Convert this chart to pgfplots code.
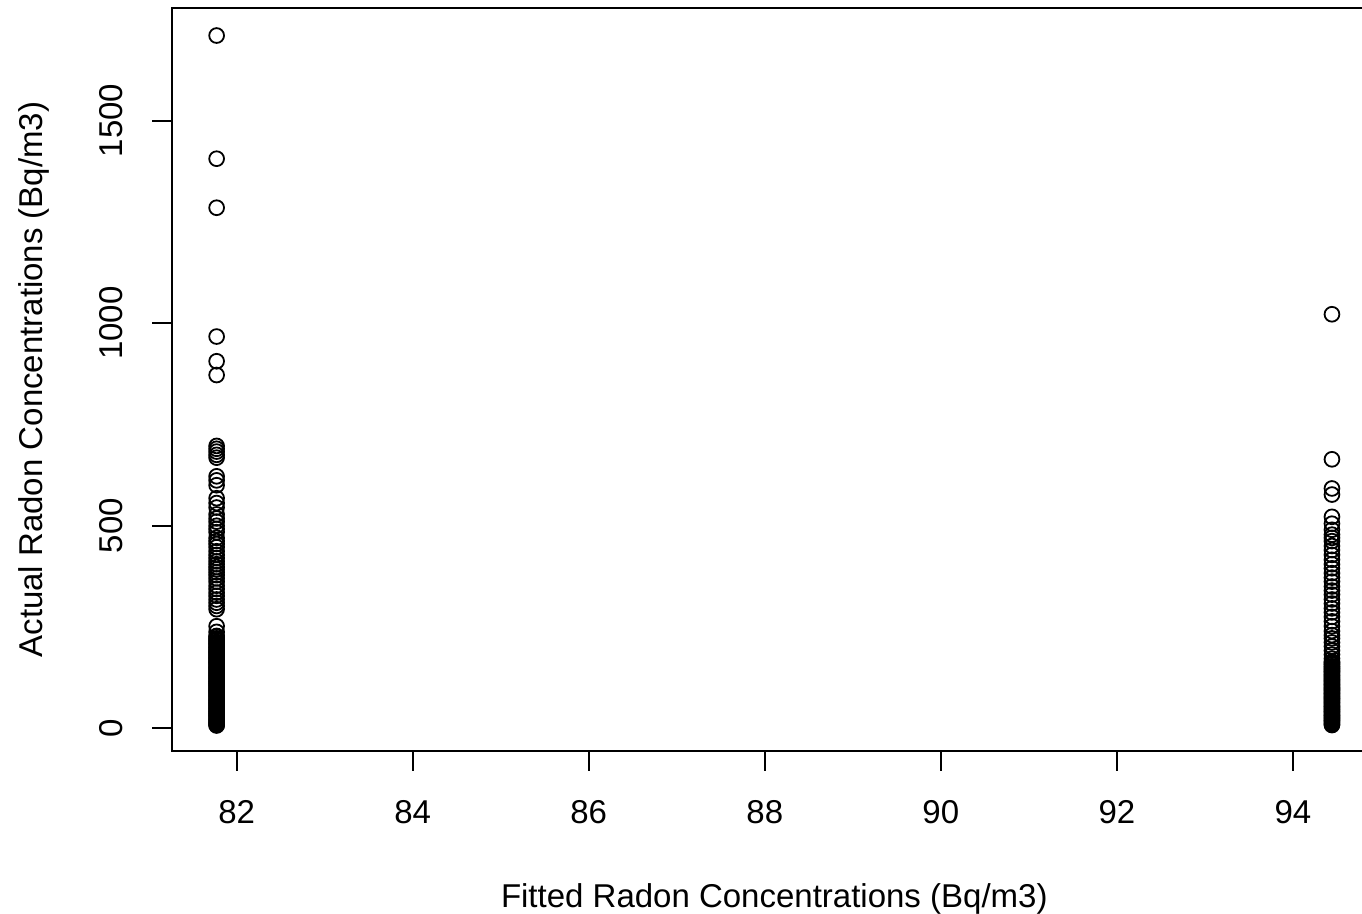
\documentclass[border=0pt]{standalone}
\usepackage{pgfplots}
\pgfplotsset{compat=1.18}
\usepackage{fontspec}
\setmainfont{Liberation Sans}
\newcommand{\rfont}{\fontsize{16.5}{19.8}\selectfont}
\begin{document}
\begin{tikzpicture}
\path[use as bounding box] (-86pt,-81.5pt) rectangle (595pt,375.5pt);
\clip (-86pt,-81.5pt) rectangle (595pt,375.5pt);
\begin{axis}[
  at={(0pt,0pt)}, anchor=south west,
  scale only axis, width=602.3pt, height=371.5pt,
  xmin=81.266, xmax=94.95, ymin=-56, ymax=1778,
  xtick={82,84,86,88,90,92,94},
  ytick={0,500,1000,1500},
  xtick pos=left, ytick pos=left,
  tick align=outside, major tick length=10pt,
  axis line style={line width=1pt}, every tick/.style={black, line width=1pt},
  /pgf/number format/assume math mode=true,
  /pgf/number format/1000 sep={},
  tick label style={font=\rfont},
  xticklabel style={anchor=center},
  xticklabel shift=20.5pt,
  yticklabel style={rotate=90, anchor=center},
  yticklabel shift=20.5pt,
  label style={font=\rfont},
  xlabel={Fitted Radon Concentrations (Bq/m3)},
  ylabel={Actual Radon Concentrations (Bq/m3)},
  xlabel style={at={(axis description cs:0.5,-0.199)}, anchor=center},
  ylabel style={at={(axis description cs:-0.1145,0.5)}, anchor=center},
]
\addplot[only marks, mark=o, mark size=3.7pt, mark options={line width=0.9pt, black}] coordinates {
(81.773,1710) (81.773,1406) (81.773,1285) (81.773,967) (81.773,906) (81.773,872)
(81.773,697) (81.773,690) (81.773,683) (81.773,675) (81.773,668) (81.773,622)
(81.773,612) (81.773,600) (81.773,568) (81.773,556) (81.773,545) (81.773,528)
(81.773,518) (81.773,510) (81.773,500) (81.773,492) (81.773,484) (81.773,470)
(81.773,462) (81.773,455) (81.773,447) (81.773,437) (81.773,428) (81.773,420)
(81.773,412) (81.773,405) (81.773,398) (81.773,392) (81.773,385) (81.773,378)
(81.773,370) (81.773,362) (81.773,352) (81.773,344) (81.773,335) (81.773,327)
(81.773,318) (81.773,310) (81.773,302) (81.773,294) (81.773,252) (81.773,238)
(81.773,228) (81.773,226) (81.773,222) (81.773,219) (81.773,217) (81.773,213)
(81.773,210) (81.773,208) (81.773,205) (81.773,201) (81.773,199) (81.773,197)
(81.773,193) (81.773,190) (81.773,188) (81.773,186) (81.773,182) (81.773,180)
(81.773,177) (81.773,174) (81.773,172) (81.773,169) (81.773,165) (81.773,164)
(81.773,161) (81.773,158) (81.773,155) (81.773,152) (81.773,150) (81.773,147)
(81.773,145) (81.773,142) (81.773,139) (81.773,136) (81.773,133) (81.773,131)
(81.773,128) (81.773,125) (81.773,123) (81.773,120) (81.773,117) (81.773,114)
(81.773,112) (81.773,109) (81.773,106) (81.773,104) (81.773,100) (81.773,98)
(81.773,95) (81.773,92) (81.773,90) (81.773,87) (81.773,84) (81.773,81)
(81.773,79) (81.773,76) (81.773,73) (81.773,70) (81.773,68) (81.773,65)
(81.773,62) (81.773,60) (81.773,57) (81.773,54) (81.773,51) (81.773,49)
(81.773,46) (81.773,43) (81.773,40) (81.773,38) (81.773,35) (81.773,32)
(81.773,30) (81.773,27) (81.773,24) (81.773,21) (81.773,19) (81.773,16)
(81.773,13) (81.773,11) (81.773,8) (81.773,7)
(94.443,1022) (94.443,664) (94.443,592) (94.443,577) (94.443,522) (94.443,505)
(94.443,490) (94.443,478) (94.443,470) (94.443,462) (94.443,450) (94.443,440)
(94.443,428) (94.443,416) (94.443,405) (94.443,395) (94.443,383) (94.443,372)
(94.443,362) (94.443,350) (94.443,340) (94.443,330) (94.443,318) (94.443,308)
(94.443,296) (94.443,286) (94.443,275) (94.443,264) (94.443,252) (94.443,240)
(94.443,230) (94.443,222) (94.443,212) (94.443,202) (94.443,192) (94.443,182)
(94.443,172) (94.443,165) (94.443,162) (94.443,159) (94.443,157) (94.443,153)
(94.443,151) (94.443,148) (94.443,145) (94.443,142) (94.443,140) (94.443,137)
(94.443,134) (94.443,131) (94.443,129) (94.443,126) (94.443,123) (94.443,120)
(94.443,118) (94.443,115) (94.443,112) (94.443,109) (94.443,107) (94.443,104)
(94.443,101) (94.443,98) (94.443,96) (94.443,93) (94.443,90) (94.443,87)
(94.443,85) (94.443,82) (94.443,79) (94.443,76) (94.443,74) (94.443,71)
(94.443,68) (94.443,65) (94.443,63) (94.443,60) (94.443,57) (94.443,54)
(94.443,52) (94.443,49) (94.443,46) (94.443,43) (94.443,41) (94.443,38)
(94.443,35) (94.443,32) (94.443,30) (94.443,27) (94.443,24) (94.443,21)
(94.443,19) (94.443,16) (94.443,13) (94.443,10) (94.443,8)
};
\end{axis}
\end{tikzpicture}
\end{document}
